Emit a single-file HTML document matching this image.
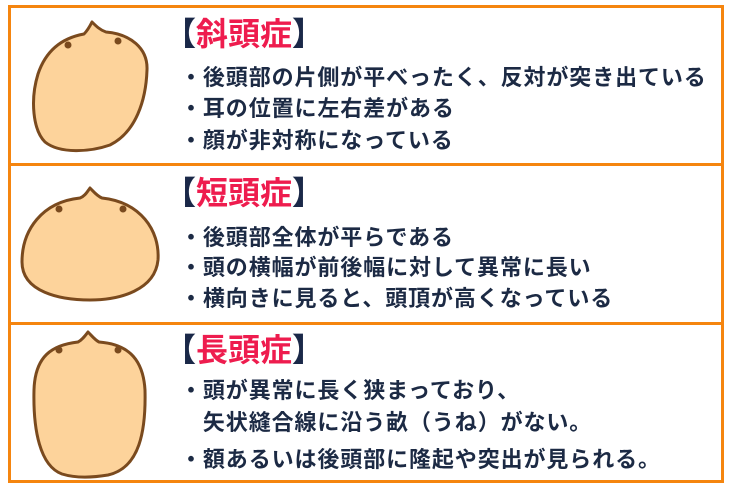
<!DOCTYPE html>
<html><head><meta charset="utf-8"><style>
*{margin:0;padding:0;box-sizing:border-box}
body{width:747px;height:500px;background:#fff;position:relative;overflow:hidden;font-family:"Liberation Sans","Noto Sans CJK JP",sans-serif}
.box{position:absolute;left:8px;width:716px;border:3px solid #f5850f;background:#fff}
.t{position:absolute;left:164px;font-size:32px;font-weight:bold;color:#ee1c4e;line-height:1;white-space:nowrap}
.t b{color:#1a2848}
.l{position:absolute;left:180px;font-size:22px;font-weight:bold;color:#1c2a44;line-height:1;white-space:nowrap;letter-spacing:0.9px}
svg{position:absolute;left:0;top:0}
</style></head><body>
<div class="box" style="top:5px;height:161px"></div>
<div class="box" style="top:163px;height:162px"></div>
<div class="box" style="top:322px;height:161px"></div>

<svg width="747" height="500">
<g fill="#fdd39b" stroke="#7a4a1e" stroke-width="3" stroke-linejoin="round">
<path d="M92,22 C96,26 100,30 106,32 C130,34 148,48 147,70 C146,100 136,132 110,145 C90,152 60,154 45,142 C33,130 30,100 38,74 C46,50 62,38 84,34 C88,30 90,26 92,22 Z"/>
<path d="M90,188 C94,192 97,196 102,198 C140,202 160,230 158,260 C155,290 120,300 90,300 C60,300 22,292 22,262 C22,230 42,202 80,198 C85,196 87,192 90,188 Z"/>
<path d="M88,332 C92,336 95,340 99,342 C125,344 143,356 145,390 C146,430 140,468 108,475 C90,478 75,478 62,474 C40,466 33,430 34,390 C35,356 52,345 78,342 C82,340 85,336 88,332 Z"/>
</g>
<g fill="#7a4a1e">
<circle cx="68" cy="45" r="3.5"/><circle cx="118" cy="41" r="3.5"/>
<circle cx="59" cy="209" r="3.5"/><circle cx="123" cy="209" r="3.5"/>
<circle cx="59" cy="350" r="3.5"/><circle cx="118" cy="350" r="3.5"/>
</g>
</svg>

<div class="t" style="top:18px"><b>【</b>斜頭症<b>】</b></div>
<div class="l" style="top:67px">・後頭部の片側が平べったく、反対が突き出ている</div>
<div class="l" style="top:98px">・耳の位置に左右差がある</div>
<div class="l" style="top:130px">・顔が非対称になっている</div>

<div class="t" style="top:177px"><b>【</b>短頭症<b>】</b></div>
<div class="l" style="top:227px">・後頭部全体が平らである</div>
<div class="l" style="top:257px">・頭の横幅が前後幅に対して異常に長い</div>
<div class="l" style="top:288px">・横向きに見ると、頭頂が高くなっている</div>

<div class="t" style="top:334px"><b>【</b>長頭症<b>】</b></div>
<div class="l" style="top:380px">・頭が異常に長く狭まっており、</div>
<div class="l" style="top:412px">&#12288;矢状縫合線に沿う畝（うね）がない。</div>
<div class="l" style="top:449px">・額あるいは後頭部に隆起や突出が見られる。</div>
</body></html>
